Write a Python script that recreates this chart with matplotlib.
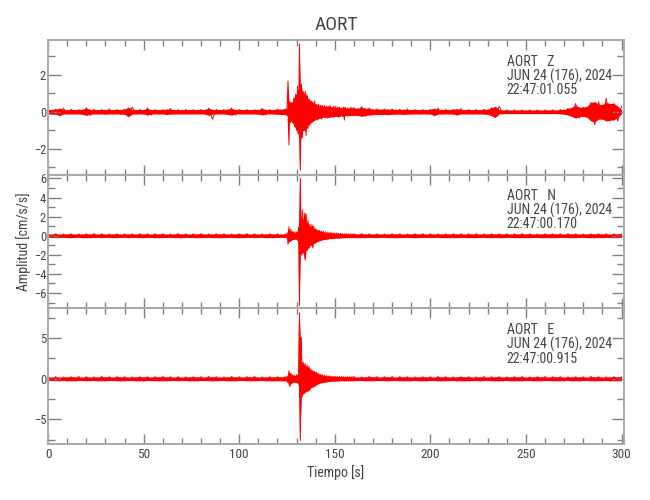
import numpy as np
import matplotlib.pyplot as plt
from matplotlib.ticker import MultipleLocator

plt.rcParams['font.family'] = ['Roboto Condensed', 'Liberation Sans Narrow', 'DejaVu Sans']
plt.rcParams['font.stretch'] = 'condensed'

# sample grid of the picked peaks (s): coarse before/after the event, fine during it
t_pre = np.arange(0, 124, 2.0)
t_evt = np.arange(124, 160, 0.5)
t_post = np.arange(160, 301, 2.0)

station = 'AORT'
date_txt = 'JUN 24 (176), 2024'
components = ['Z', 'N', 'E']
start_times = ['22:47:01.055', '22:47:00.170', '22:47:00.915']

# peak amplitudes (cm/s/s)
z_pre = [0.12, -0.13, 0.14, -0.22, 0.2, -0.12, 0.13, -0.12, 0.12, -0.14,
         0.22, -0.2, 0.13, -0.12, 0.12, -0.13, 0.16, -0.12, 0.12, -0.13,
         0.14, -0.28, 0.26, -0.13, 0.12, -0.12, 0.2, -0.18, 0.12, -0.13,
         0.12, -0.15, 0.18, -0.13, 0.12, -0.12, 0.13, -0.12, 0.12, -0.12,
         0.12, -0.13, 0.2, -0.4, 0.13, -0.12, 0.12, -0.15, 0.2, -0.18,
         0.12, -0.12, 0.12, -0.13, 0.12, -0.13, 0.18, -0.17, 0.12, -0.12,
         0.14, -0.15]
z_evt = [0.15, -0.18, 0.2, 1.66, -1.8, 0.55, -0.6, 0.5, -0.6, 0.75,
         -0.8, 0.95, -1.0, 1.4, -1.2, 3.66, -3.16, 1.5, -1.4, 1.1,
         -1.0, 1.1, -1.3, 0.9, -0.9, 0.7, -0.75, 0.6, -0.6, 0.55,
         -0.5, 0.6, -0.45, 0.4, -0.45, 0.4, -0.35, 0.35, -0.4, 0.35,
         -0.3, 0.35, -0.3, 0.3, -0.35, 0.3, -0.3, 0.35, -0.3, 0.25,
         -0.3, 0.3, -0.25, 0.3, -0.25, 0.25, -0.3, 0.25, -0.25, 0.2,
         -0.25, 0.25, -0.45, 0.25, -0.2, 0.2, -0.25, 0.2, -0.2, 0.25,
         -0.2, 0.2]
z_post = [0.22, -0.2, 0.28, -0.25, 0.2, -0.18, 0.15, -0.15, 0.15, -0.18,
          0.15, -0.14, 0.13, -0.14, 0.15, -0.13, 0.12, -0.13, 0.12, -0.12,
          0.13, -0.22, 0.2, -0.13, 0.12, -0.12, 0.13, -0.18, 0.17, -0.12,
          0.12, -0.12, 0.12, -0.12, 0.13, -0.14, 0.22, -0.32, 0.3, -0.12,
          0.1, -0.1, 0.1, -0.1, 0.1, -0.1, 0.1, -0.1, 0.1, -0.1,
          0.1, -0.1, 0.11, -0.1, 0.12, -0.13, 0.18, -0.25, 0.45, -0.35,
          0.25, -0.3, 0.5, -0.7, 0.55, -0.4, 0.72, -0.5, 0.45, -0.5,
          0.3]

n_pre = [0.2, -0.18, 0.22, -0.2, 0.18, -0.2, 0.2, -0.22, 0.18, -0.2,
         0.2, -0.2, 0.22, -0.18, 0.2, -0.2, 0.18, -0.22, 0.2, -0.2,
         0.18, -0.2, 0.2, -0.18, 0.22, -0.2, 0.2, -0.18, 0.2, -0.22,
         0.2, -0.2, 0.18, -0.2, 0.22, -0.2, 0.2, -0.18, 0.2, -0.2,
         0.22, -0.2, 0.18, -0.2, 0.2, -0.22, 0.2, -0.2, 0.18, -0.2,
         0.2, -0.2, 0.22, -0.18, 0.2, -0.2, 0.18, -0.2, 0.2, -0.2,
         0.2, -0.18]
n_evt = [0.18, -0.2, 0.3, -0.87, 0.94, -0.6, 0.7, -0.5, 0.45, -0.4,
         0.4, -0.35, 0.4, -0.5, 0.9, -7.3, 6.0, -2.0, 2.7, -1.8,
         2.4, -2.55, 2.3, -1.5, 1.6, -1.3, 1.2, -1.0, 1.15, -1.3,
         1.0, -0.8, 0.75, -0.7, 0.6, -0.6, 0.55, -0.5, 0.5, -0.45,
         0.45, -0.4, 0.4, -0.4, 0.35, -0.35, 0.35, -0.3, 0.35, -0.3,
         0.3, -0.3, 0.3, -0.25, 0.3, -0.25, 0.25, -0.25, 0.25, -0.22,
         0.22, -0.22, 0.22, -0.2, 0.22, -0.2, 0.2, -0.2, 0.2, -0.2,
         0.2, -0.2]
n_post = [0.2, -0.2, 0.22, -0.2, 0.2, -0.18, 0.2, -0.2, 0.18, -0.2,
          0.2, -0.22, 0.2, -0.2, 0.18, -0.2, 0.2, -0.2, 0.22, -0.18,
          0.2, -0.2, 0.18, -0.2, 0.2, -0.22, 0.2, -0.2, 0.2, -0.18,
          0.2, -0.2, 0.22, -0.2, 0.18, -0.2, 0.2, -0.2, 0.2, -0.22,
          0.2, -0.18, 0.2, -0.2, 0.22, -0.2, 0.2, -0.2, 0.18, -0.2,
          0.2, -0.22, 0.2, -0.2, 0.2, -0.18, 0.22, -0.2, 0.2, -0.2,
          0.18, -0.2, 0.2, -0.22, 0.2, -0.2, 0.2, -0.18, 0.2, -0.2,
          0.2]

e_pre = [0.25, -0.22, 0.25, -0.28, 0.22, -0.25, 0.25, -0.25, 0.28, -0.22,
         0.25, -0.25, 0.22, -0.25, 0.28, -0.25, 0.25, -0.22, 0.25, -0.28,
         0.25, -0.25, 0.22, -0.25, 0.25, -0.28, 0.25, -0.22, 0.25, -0.25,
         0.28, -0.25, 0.25, -0.22, 0.25, -0.25, 0.22, -0.28, 0.25, -0.25,
         0.25, -0.22, 0.28, -0.25, 0.25, -0.25, 0.22, -0.25, 0.28, -0.25,
         0.25, -0.22, 0.25, -0.25, 0.28, -0.25, 0.22, -0.25, 0.25, -0.28,
         0.25, -0.25]
e_evt = [0.25, -0.28, 0.35, -0.5, 1.0, -0.95, 0.7, -0.6, 0.5, -0.45,
         0.4, -0.45, 0.5, -0.5, 0.9, 8.1, -7.6, 5.1, -2.2, 2.0,
         -1.8, 1.9, -1.6, 1.7, -1.5, 1.5, -1.4, 1.2, -1.1, 1.0,
         -1.0, 0.9, -0.9, 0.8, -0.7, 0.65, -0.6, 0.55, -0.5, 0.5,
         -0.45, 0.45, -0.4, 0.4, -0.4, 0.35, -0.35, 0.35, -0.3, 0.3,
         -0.3, 0.3, -0.3, 0.3, -0.28, 0.28, -0.28, 0.28, -0.25, 0.28,
         -0.25, 0.25, -0.28, 0.25, -0.25, 0.25, -0.25, 0.25, -0.25, 0.25,
         -0.25, 0.25]
e_post = [0.25, -0.25, 0.22, -0.25, 0.28, -0.25, 0.25, -0.22, 0.25, -0.25,
          0.28, -0.22, 0.25, -0.25, 0.25, -0.28, 0.22, -0.25, 0.25, -0.25,
          0.25, -0.22, 0.28, -0.25, 0.25, -0.25, 0.22, -0.28, 0.25, -0.25,
          0.25, -0.25, 0.22, -0.25, 0.28, -0.22, 0.25, -0.25, 0.25, -0.28,
          0.22, -0.25, 0.25, -0.25, 0.28, -0.25, 0.22, -0.25, 0.25, -0.25,
          0.28, -0.22, 0.25, -0.25, 0.25, -0.28, 0.22, -0.25, 0.25, -0.25,
          0.25, -0.22, 0.28, -0.25, 0.25, -0.25, 0.22, -0.28, 0.25, -0.25,
          0.25]

t = np.concatenate([t_pre, t_evt, t_post])
traces = [np.concatenate([z_pre, z_evt, z_post]),
          np.concatenate([n_pre, n_evt, n_post]),
          np.concatenate([e_pre, e_evt, e_post])]

# panel styling
ylims = [(-3.42, 3.88), (-7.57, 6.36), (-8.02, 8.7)]
ymajor = [2, 2, 5]
yminor = [1, 1, 2.5]
boxes = [(0.074, 0.650, 0.886, 0.270),
         (0.074, 0.384, 0.886, 0.266),
         (0.074, 0.112, 0.886, 0.272)]
spine_c = '#aaaaaa'
tick_c = '#808080'
text_c = '#444444'
fs_tick = 9
fs_txt = 10

fig = plt.figure(figsize=(6.5, 5), dpi=100)
axes = []
for i in range(3):
    ax = fig.add_axes(boxes[i])
    v = traces[i]
    env = np.minimum(np.abs(v), np.abs(np.roll(v, -1)))
    ax.fill_between(t, -env, env, color='#ff0000', lw=0)
    ax.plot(t, v, color='#ff0000', lw=0.7)

    ax.set_xlim(0, 301.3)
    ax.set_ylim(*ylims[i])
    ax.xaxis.set_major_locator(MultipleLocator(50))
    ax.xaxis.set_minor_locator(MultipleLocator(10))
    ax.yaxis.set_major_locator(MultipleLocator(ymajor[i]))
    ax.yaxis.set_minor_locator(MultipleLocator(yminor[i]))
    ax.tick_params(which='both', direction='in', top=True, right=True,
                   color=tick_c, labelcolor=text_c, labelsize=fs_tick, width=1)
    ax.tick_params(axis='x', which='major', length=7, pad=3, labelsize=9.5)
    ax.tick_params(axis='x', which='minor', length=4)
    ax.tick_params(axis='y', which='major', length=9, pad=1.5)
    ax.tick_params(axis='y', which='minor', length=5)
    for s in ax.spines.values():
        s.set_color(spine_c)
        s.set_linewidth(1.5)
    if i < 2:
        ax.tick_params(axis='x', labelbottom=False)

    trans = ax.get_xaxis_transform()
    ax.text(240, 0.84, f'{station}   {components[i]}', transform=trans,
            va='center', ha='left', fontsize=fs_txt, color=text_c)
    ax.text(240, 0.733, date_txt, transform=trans,
            va='center', ha='left', fontsize=fs_txt, color=text_c)
    ax.text(240, 0.628, start_times[i], transform=trans,
            va='center', ha='left', fontsize=fs_txt, color=text_c)
    axes.append(ax)

axes[0].set_title(station, fontsize=14, color=text_c, pad=7)
axes[2].set_xlabel('Tiempo [s]', fontsize=fs_txt, color=text_c, labelpad=3)
fig.text(0.036, 0.516, 'Amplitud [cm/s/s]', rotation=90, ha='center', va='center',
         fontsize=10, color=text_c)

fig.savefig('out.png', dpi=100)
